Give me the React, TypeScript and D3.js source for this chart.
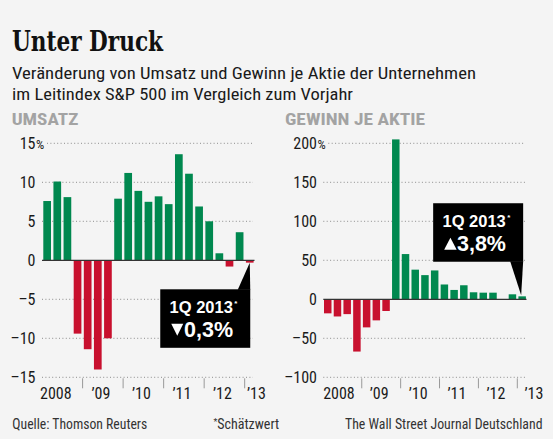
import * as d3 from "d3";

// Quarters 2008 Q1 .. 2013 Q1 (last one is an estimate)
const QUARTERS = [
  "2008 Q1", "2008 Q2", "2008 Q3", "2008 Q4",
  "2009 Q1", "2009 Q2", "2009 Q3", "2009 Q4",
  "2010 Q1", "2010 Q2", "2010 Q3", "2010 Q4",
  "2011 Q1", "2011 Q2", "2011 Q3", "2011 Q4",
  "2012 Q1", "2012 Q2", "2012 Q3", "2012 Q4",
  "2013 Q1",
];
const YEAR_LABELS = ["2008", "’09", "’10", "’11", "’12", "’13"];

// Umsatz, change vs. previous year in %
const UMSATZ = [
  7.6, 10.1, 8.1, -9.4,
  -11.4, -14.0, -10.0, 7.9,
  11.2, 8.9, 7.5, 8.2,
  7.2, 13.6, 11.1, 6.9,
  5.0, 0.9, -0.8, 3.6,
  -0.3,
];
// Gewinn je Aktie, change vs. previous year in %
const GEWINN = [
  -18, -22, -19, -67,
  -36, -27, -15, 205,
  58, 38, 31, 37,
  19, 12, 18, 9,
  8.5, 8.5, 0, 6.4,
  3.8,
];

const UMSATZ_TICKS = [-15, -10, -5, 0, 5, 10, 15];
const GEWINN_TICKS = [-100, -50, 0, 50, 100, 150, 200];

const UMSATZ_CALLOUT = { label: "1Q 2013", value: "0,3%", up: false };
const GEWINN_CALLOUT = { label: "1Q 2013", value: "3,8%", up: true };

const W = 553;
const H = 439;
const BG = "#f4f4f4";
const GREEN = "#00884f";
const RED = "#c8102e";
const INK = "#1a1a1a";
const NARROW = "'Liberation Sans Narrow', 'Roboto Condensed', 'Liberation Sans', sans-serif";
const WIDE = "'Liberation Sans', Arial, sans-serif";
const SLAB = "'DejaVu Serif Condensed', 'DejaVu Serif', serif";

const Y_TOP = 143.3;
const Y_BOTTOM = 377.3;

type Callout = { label: string; value: string; up: boolean };

type PanelProps = {
  values: number[];
  ticks: number[];
  xRange: [number, number];
  pad: number;
  labelRight: number;
  gridFrom: number;
  gridTo: number;
  header: string;
  headerX: number;
  headerWidth: number;
  callout: Callout;
  firstShift: number;
  lastShift: number;
};

const Panel = (p: PanelProps) => {
  const x = d3
    .scaleBand<string>()
    .domain(QUARTERS)
    .range(p.xRange)
    .paddingInner(p.pad)
    .paddingOuter(0);
  const y = d3
    .scaleLinear()
    .domain(d3.extent(p.ticks) as [number, number])
    .range([Y_BOTTOM, Y_TOP]);
  const bw = x.bandwidth();
  const gap = x.step() - bw;
  const top = d3.max(p.ticks)!;

  // year boundaries and label positions
  const years = YEAR_LABELS.map((lab, i) => {
    const first = QUARTERS[i * 4];
    const last = QUARTERS[Math.min(i * 4 + 3, QUARTERS.length - 1)];
    const cx = (x(first)! + x(last)! + bw) / 2;
    return { lab, boundary: x(first)! - gap / 2, cx, i };
  });

  const lastQ = QUARTERS[QUARTERS.length - 1];
  const lastV = p.values[p.values.length - 1];
  const cx = x(lastQ)! + bw / 2;
  const c = p.callout;
  const boxW = 90;
  const boxH = 58.5;
  // box below the axis for a negative value, above the bar for a positive one
  const boxX = c.up ? cx - boxW + 1 : cx - boxW + 0.5;
  const boxY = c.up ? y(lastV) - 34.6 - boxH : y(0) + 29;
  const pointer = c.up
    ? `M${cx - 12},${boxY + boxH - 0.5}L${cx + 1},${boxY + boxH - 0.5}L${cx - 1},${y(lastV) - 1}Z`
    : `M${cx - 12},${boxY + 0.5}L${cx},${y(lastV)}L${cx + 0.5},${boxY + 0.5}Z`;
  const triX = boxX + 11;
  const base2 = boxY + 48;
  const tri = c.up
    ? `M${triX},${base2 - 1.5}L${triX + 12.5},${base2 - 1.5}L${triX + 6.25},${base2 - 13.5}Z`
    : `M${triX},${base2 - 13.5}L${triX + 12},${base2 - 13.5}L${triX + 6},${base2 - 1.5}Z`;

  return (
    <g>
      <text
        x={p.headerX}
        y={125}
        fontFamily={NARROW}
        fontWeight="bold"
        fontSize={16.5}
        fill="#a3a3a3"
        textLength={p.headerWidth}
        lengthAdjust="spacingAndGlyphs"
      >
        {p.header}
      </text>

      {/* gridlines */}
      {p.ticks
        .filter((t) => t !== 0)
        .map((t) => (
          <line
            key={t}
            x1={t === top ? p.gridFrom + 5 : p.gridFrom}
            x2={p.gridTo}
            y1={y(t)}
            y2={y(t)}
            stroke="#8c8c8c"
            strokeWidth={1}
            strokeDasharray="1,2.4"
          />
        ))}

      {/* y labels */}
      {p.ticks.map((t) => (
        <text
          key={t}
          x={p.labelRight}
          y={y(t) + 5.8}
          textAnchor="end"
          fontFamily={NARROW}
          fontSize={16}
          fill={INK}
        >
          {t < 0 ? `–${Math.abs(t)}` : t}
        </text>
      ))}
      <text
        x={p.labelRight + 0.5}
        y={y(top) + 5.8}
        fontFamily={NARROW}
        fontSize={13}
        fill={INK}
      >
        %
      </text>

      {/* bars */}
      {p.values.map((v, i) => (
        <rect
          key={QUARTERS[i]}
          x={x(QUARTERS[i])}
          width={bw}
          y={y(Math.max(0, v))}
          height={Math.abs(y(v) - y(0))}
          fill={v >= 0 ? GREEN : RED}
        />
      ))}

      {/* zero line */}
      <line
        x1={p.gridFrom}
        x2={p.gridTo + 1.5}
        y1={y(0)}
        y2={y(0)}
        stroke="#333"
        strokeWidth={1.3}
      />

      {/* year ticks and labels */}
      {years
        .filter((d) => d.i > 0)
        .map((d) => (
          <line
            key={d.lab}
            x1={d.boundary}
            x2={d.boundary}
            y1={Y_BOTTOM + 1}
            y2={Y_BOTTOM + 11}
            stroke="#999"
            strokeWidth={1}
          />
        ))}
      {years.map((d) => {
        let lx = d.cx - 2;
        if (d.i === 0) lx = d.cx + p.firstShift;
        if (d.i === YEAR_LABELS.length - 1) lx = d.cx + p.lastShift;
        return (
          <text
            key={d.lab}
            x={lx}
            y={398.5}
            textAnchor="middle"
            fontFamily={NARROW}
            fontSize={16}
            fill={INK}
          >
            {d.lab}
          </text>
        );
      })}

      {/* callout */}
      <rect x={boxX} y={boxY} width={boxW} height={boxH} fill="#000" />
      <path d={pointer} fill="#000" />
      <text x={boxX + 9.3} y={boxY + 24} fontFamily={WIDE} fontWeight="bold" fontSize={16.5} fill="#fff">
        {c.label}
        <tspan fontSize={8} dx={1.5} dy={-7}>
          *
        </tspan>
      </text>
      <path d={tri} fill="#fff" />
      <text x={boxX + 23.8} y={base2} fontFamily={WIDE} fontWeight="bold" fontSize={21.5} fill="#fff">
        {c.value}
      </text>
    </g>
  );
};

export default function App() {
  return (
    <div style={{ position: "absolute", left: 0, top: 0 }}>
      <svg width={W} height={H} style={{ display: "block" }}>
        <rect width={W} height={H} fill={BG} />
        <text
          x={12}
          y={51}
          fontFamily={SLAB}
          fontWeight="bold"
          fontSize={27}
          fill="#111"
          textLength={151}
          lengthAdjust="spacingAndGlyphs"
        >
          Unter Druck
        </text>
        <text
          x={12}
          y={79}
          fontFamily={NARROW}
          fontSize={17}
          fill={INK}
          textLength={464}
          lengthAdjust="spacingAndGlyphs"
        >
          Veränderung von Umsatz und Gewinn je Aktie der Unternehmen
        </text>
        <text
          x={12}
          y={100}
          fontFamily={NARROW}
          fontSize={17}
          fill={INK}
          textLength={341}
          lengthAdjust="spacingAndGlyphs"
        >
          im Leitindex S&amp;P 500 im Vergleich zum Vorjahr
        </text>

        <Panel
          values={UMSATZ}
          ticks={UMSATZ_TICKS}
          xRange={[43.3, 253.6]}
          pad={0.24}
          labelRight={35.5}
          gridFrom={42}
          gridTo={253}
          header="UMSATZ"
          headerX={11.7}
          headerWidth={66.6}
          callout={UMSATZ_CALLOUT}
          firstShift={-6.5}
          lastShift={6.7}
        />
        <Panel
          values={GEWINN}
          ticks={GEWINN_TICKS}
          xRange={[324, 525.9]}
          pad={0.23}
          labelRight={317}
          gridFrom={323.3}
          gridTo={525}
          header="GEWINN JE AKTIE"
          headerX={285}
          headerWidth={140}
          callout={GEWINN_CALLOUT}
          firstShift={-3.4}
          lastShift={11.8}
        />

        <text x={12.3} y={429} fontFamily={NARROW} fontSize={14} fill="#333" textLength={135} lengthAdjust="spacingAndGlyphs">
          Quelle: Thomson Reuters
        </text>
        <text x={213.4} y={429} fontFamily={NARROW} fontSize={14} fill="#333">
          <tspan fontSize={9} dy={-4}>*</tspan>
          <tspan dy={4}>Schätzwert</tspan>
        </text>
        <text x={345} y={429} fontFamily={NARROW} fontSize={14} fill="#333" textLength={197.5} lengthAdjust="spacingAndGlyphs">
          The Wall Street Journal Deutschland
        </text>
      </svg>
    </div>
  );
}
